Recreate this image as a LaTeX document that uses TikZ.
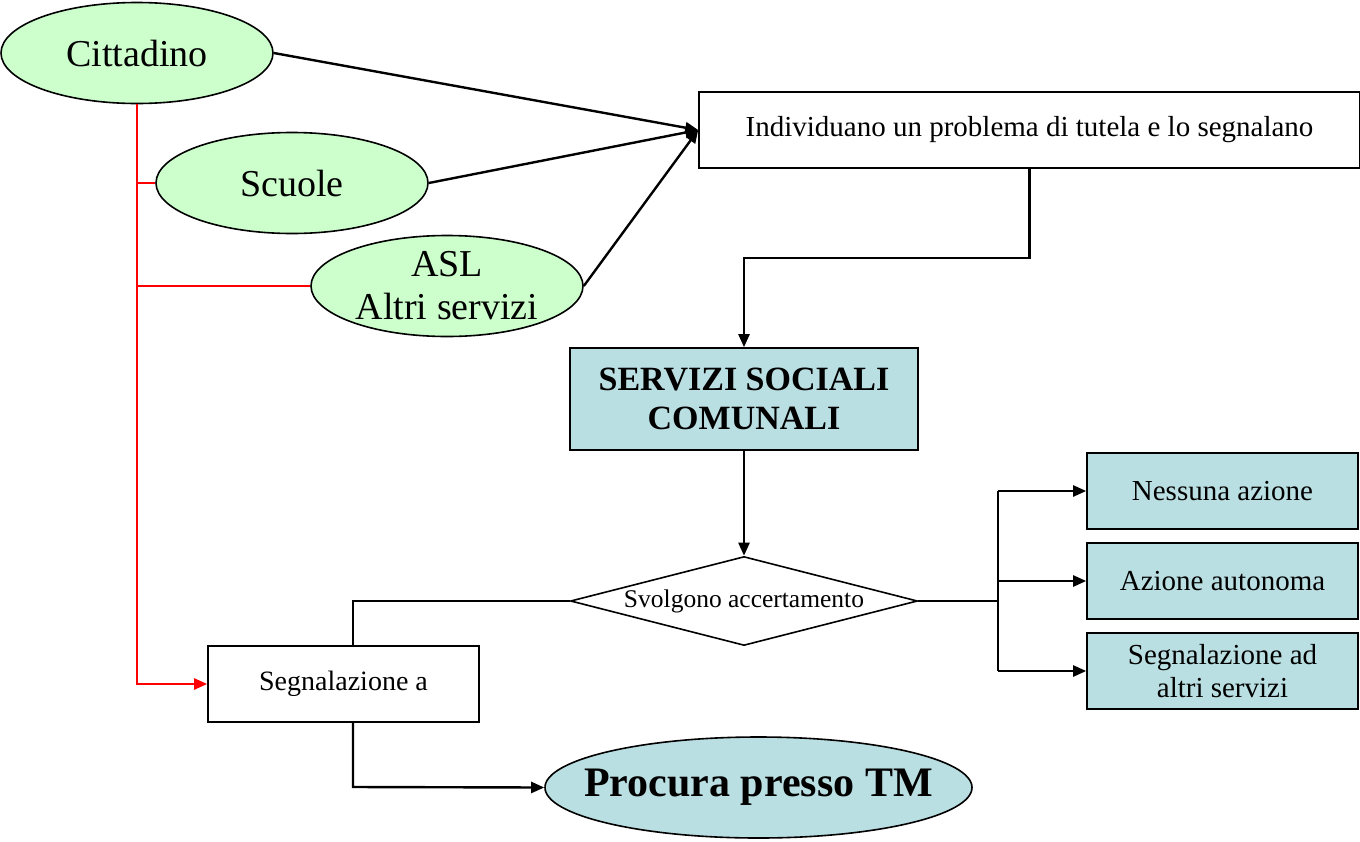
\documentclass[tikz,border=0pt]{standalone}
\usepackage{fontspec}
\setmainfont{Liberation Serif}
\usetikzlibrary{arrows.meta,shapes.geometric}
\definecolor{mintfill}{HTML}{CCFFCC}
\definecolor{tealfill}{HTML}{BADFE2}
\definecolor{linkred}{HTML}{FF0000}
\begin{document}
\begin{tikzpicture}[x=1pt,y=-1pt,
  actor/.style={ellipse,draw,line width=1.6pt,fill=mintfill,inner sep=0pt,
    minimum width=272pt,minimum height=101pt,font=\fontsize{38}{43}\selectfont,align=center},
  plainbox/.style={rectangle,draw,line width=1.6pt,fill=white,inner sep=0pt},
  tealbox/.style={rectangle,draw,line width=1.6pt,fill=tealfill,inner sep=0pt,align=center},
  conn/.style={line width=2.4pt,-{Triangle[length=13pt,width=11pt]}},
  link/.style={line width=2.4pt},
  redlink/.style={line width=2.4pt,draw=linkred},
  redconn/.style={line width=2.4pt,draw=linkred,-{Triangle[length=13pt,width=11pt]},color=linkred}]
\useasboundingbox (0,0) rectangle (1360,841);

% reporting actors
\node[actor] (cit) at (137,53) {Cittadino};
\node[actor] (scu) at (292,183) {Scuole};
\node[actor] (asl) at (447,286) {ASL\\Altri servizi};

% flow boxes
\node[plainbox,minimum width=661pt,minimum height=76pt,font=\fontsize{29}{33}\selectfont]
  (ind) at (1029.5,130) {Individuano un problema di tutela e lo segnalano};
\node[tealbox,minimum width=348pt,minimum height=102pt,font=\fontsize{34}{39}\bfseries\selectfont]
  (ssc) at (744,399) {SERVIZI SOCIALI\\COMUNALI};
\node[diamond,draw,line width=1.6pt,fill=white,inner sep=0pt,aspect=3.9,
  minimum width=347pt,minimum height=89pt,font=\fontsize{25.5}{29}\selectfont]
  (acc) at (744,601) {Svolgono accertamento};

% outcomes
\node[tealbox,minimum width=271pt,minimum height=76pt,font=\fontsize{29}{33}\selectfont]
  (nes) at (1222.5,491) {Nessuna azione};
\node[tealbox,minimum width=271pt,minimum height=76pt,font=\fontsize{29}{33}\selectfont]
  (aut) at (1222.5,581) {Azione autonoma};
\node[tealbox,minimum width=271pt,minimum height=76pt,font=\fontsize{29}{33}\selectfont]
  (alt) at (1222.5,671) {Segnalazione ad\\altri servizi};

\node[plainbox,minimum width=271pt,minimum height=76pt,font=\fontsize{28}{32}\selectfont]
  (seg) at (343.5,684) {Segnalazione a};
\node[ellipse,draw,line width=1.6pt,fill=tealfill,inner xsep=-30pt,inner ysep=0pt,
  minimum width=427pt,minimum height=101pt,font=\fontsize{42}{48}\bfseries\selectfont]
  (tm) at (758.5,787.5) {Procura presso TM};

% routing points
\coordinate (b1) at (744,258);
\coordinate (fork) at (998,601);
\coordinate (lft) at (353,601);
\coordinate (low) at (353,787);

% signals to the reporting box
\draw[conn] (cit.east) -- (ind.west);
\draw[conn] (scu.east) -- (ind.west);
\draw[conn] (asl.east) -- (ind.west);

% main flow
\draw[conn] (ind.south) |- (b1) -- (ssc.north);
\draw[conn] (ssc.south) -- (acc.north);
\draw[link] (acc.east) -- (fork);
\draw[link] (fork |- nes.west) -- (fork |- alt.west);
\draw[conn] (fork |- nes.west) -- (nes.west);
\draw[conn] (fork |- aut.west) -- (aut.west);
\draw[conn] (fork |- alt.west) -- (alt.west);
\draw[link] (acc.west) -- (lft) -- (seg.north -| lft);
\draw[conn] (seg.south -| low) -- (low) -- (tm.west);

% direct reporting line
\draw[redlink] (cit.south |- scu.west) -- (scu.west);
\draw[redlink] (cit.south |- asl.west) -- (asl.west);
\draw[redconn] (cit.south) |- (seg.west);
\end{tikzpicture}
\end{document}
